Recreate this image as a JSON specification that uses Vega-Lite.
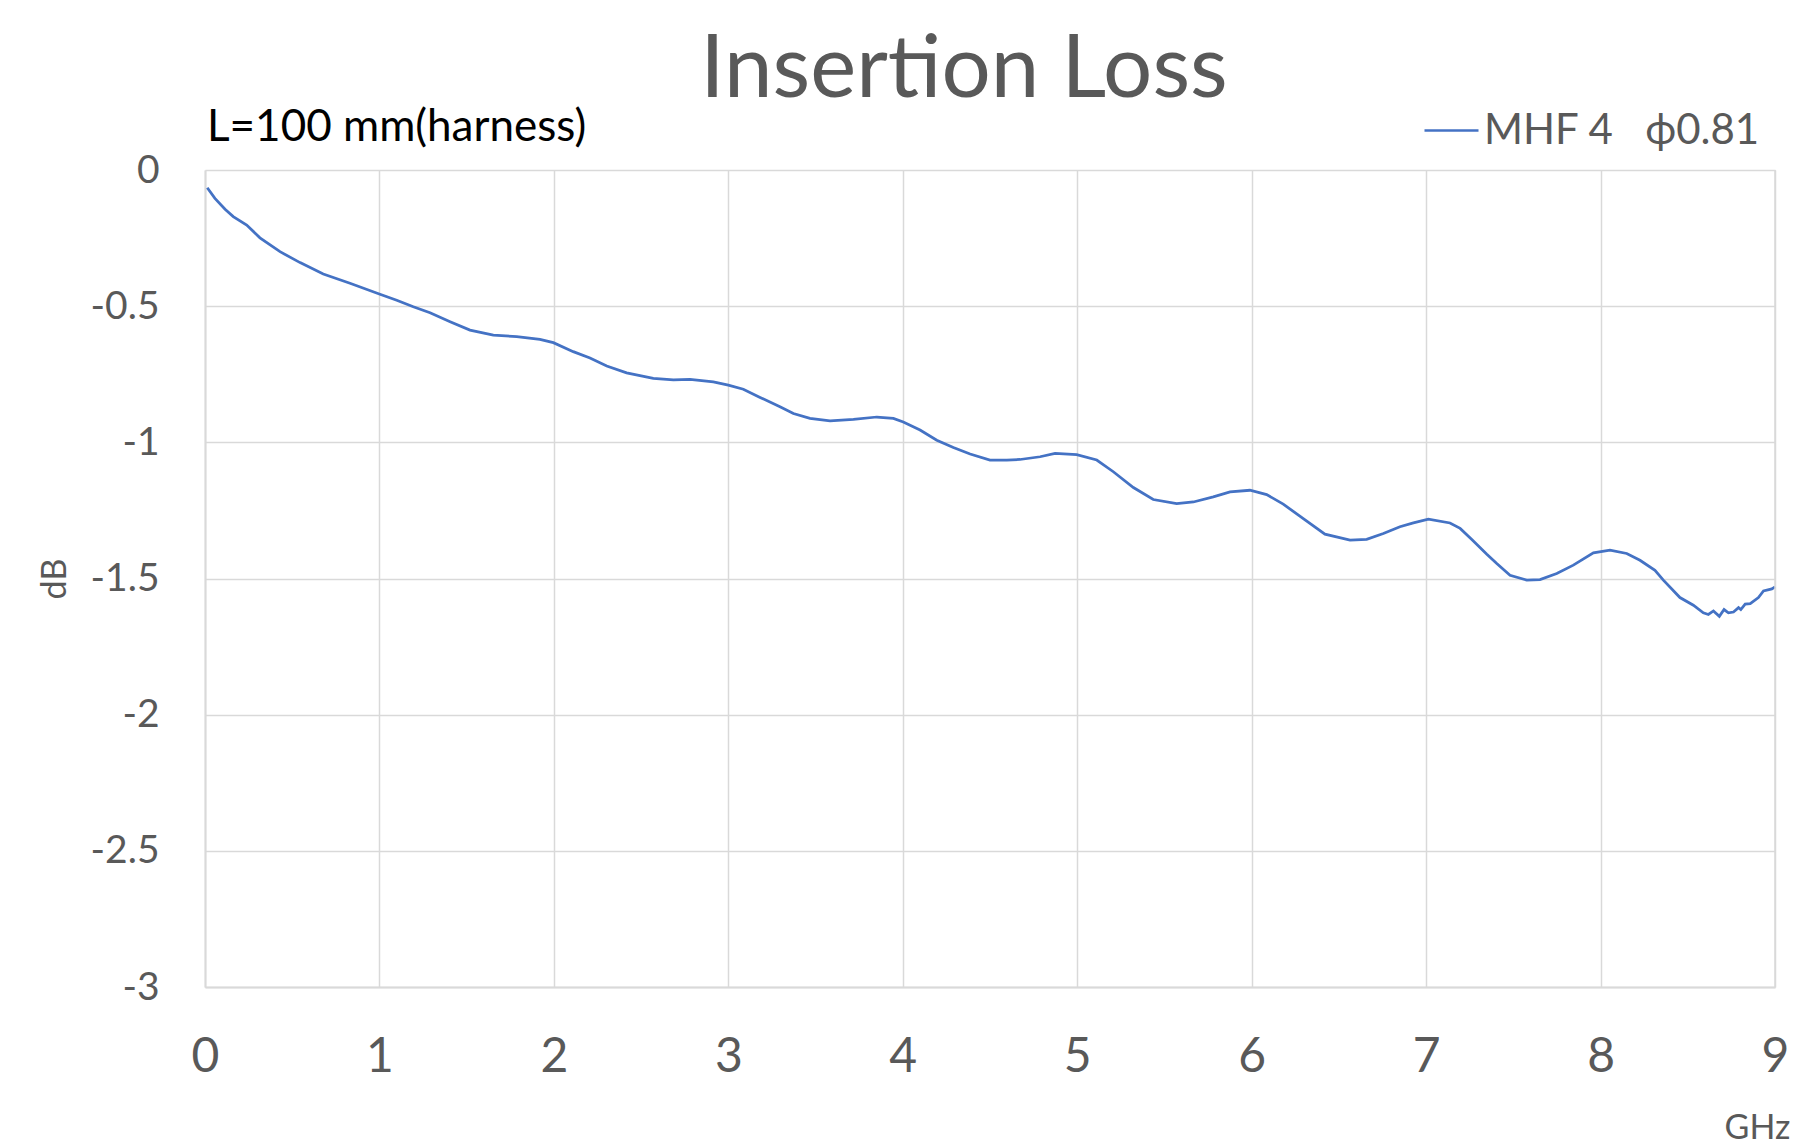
{
  "$schema": "https://vega.github.io/schema/vega-lite/v6.json",
  "width": 1570,
  "height": 817,
  "autosize": {"type": "none"},
  "padding": {"left": 205, "top": 170, "right": 36, "bottom": 158},
  "background": "white",
  "config": {
    "view": {"stroke": null},
    "font": "Lato"
  },
  "title": {
    "text": "Insertion Loss",
    "font": "Lato",
    "fontSize": 87,
    "fontWeight": "normal",
    "color": "#595959",
    "anchor": "middle",
    "frame": "group",
    "dx": -26,
    "offset": -13
  },
  "datasets": {
    "curve": [
      {"f": 0.013, "db": -0.065}, {"f": 0.057, "db": -0.104}, {"f": 0.115, "db": -0.144}, {"f": 0.162, "db": -0.171},
      {"f": 0.239, "db": -0.202}, {"f": 0.315, "db": -0.249}, {"f": 0.43, "db": -0.3}, {"f": 0.545, "db": -0.34},
      {"f": 0.678, "db": -0.382}, {"f": 0.831, "db": -0.416}, {"f": 1.003, "db": -0.456}, {"f": 1.099, "db": -0.478},
      {"f": 1.194, "db": -0.502}, {"f": 1.29, "db": -0.524}, {"f": 1.405, "db": -0.557}, {"f": 1.519, "db": -0.588},
      {"f": 1.653, "db": -0.606}, {"f": 1.787, "db": -0.612}, {"f": 1.92, "db": -0.622}, {"f": 1.997, "db": -0.634},
      {"f": 2.111, "db": -0.667}, {"f": 2.207, "db": -0.69}, {"f": 2.303, "db": -0.72}, {"f": 2.417, "db": -0.745},
      {"f": 2.57, "db": -0.765}, {"f": 2.685, "db": -0.771}, {"f": 2.78, "db": -0.769}, {"f": 2.914, "db": -0.778},
      {"f": 3.0, "db": -0.79}, {"f": 3.086, "db": -0.805}, {"f": 3.182, "db": -0.835}, {"f": 3.296, "db": -0.869},
      {"f": 3.373, "db": -0.894}, {"f": 3.468, "db": -0.912}, {"f": 3.583, "db": -0.921}, {"f": 3.717, "db": -0.916},
      {"f": 3.851, "db": -0.907}, {"f": 3.946, "db": -0.912}, {"f": 4.003, "db": -0.925}, {"f": 4.099, "db": -0.955},
      {"f": 4.195, "db": -0.992}, {"f": 4.29, "db": -1.019}, {"f": 4.386, "db": -1.043}, {"f": 4.5, "db": -1.065},
      {"f": 4.596, "db": -1.065}, {"f": 4.672, "db": -1.063}, {"f": 4.787, "db": -1.053}, {"f": 4.873, "db": -1.041},
      {"f": 4.997, "db": -1.045}, {"f": 5.112, "db": -1.065}, {"f": 5.207, "db": -1.108}, {"f": 5.322, "db": -1.166},
      {"f": 5.436, "db": -1.21}, {"f": 5.57, "db": -1.225}, {"f": 5.666, "db": -1.219}, {"f": 5.78, "db": -1.2},
      {"f": 5.876, "db": -1.182}, {"f": 5.99, "db": -1.176}, {"f": 6.086, "db": -1.192}, {"f": 6.181, "db": -1.227},
      {"f": 6.296, "db": -1.28}, {"f": 6.42, "db": -1.337}, {"f": 6.564, "db": -1.359}, {"f": 6.659, "db": -1.356},
      {"f": 6.755, "db": -1.335}, {"f": 6.85, "db": -1.31}, {"f": 6.927, "db": -1.296}, {"f": 7.013, "db": -1.282},
      {"f": 7.137, "db": -1.296}, {"f": 7.195, "db": -1.316}, {"f": 7.262, "db": -1.357}, {"f": 7.348, "db": -1.411},
      {"f": 7.405, "db": -1.445}, {"f": 7.481, "db": -1.488}, {"f": 7.577, "db": -1.506}, {"f": 7.653, "db": -1.504},
      {"f": 7.749, "db": -1.482}, {"f": 7.844, "db": -1.451}, {"f": 7.959, "db": -1.406}, {"f": 8.054, "db": -1.396},
      {"f": 8.15, "db": -1.408}, {"f": 8.226, "db": -1.433}, {"f": 8.312, "db": -1.47}, {"f": 8.36, "db": -1.506},
      {"f": 8.455, "db": -1.57}, {"f": 8.532, "db": -1.598}, {"f": 8.589, "db": -1.626}, {"f": 8.618, "db": -1.632},
      {"f": 8.647, "db": -1.619}, {"f": 8.681, "db": -1.639}, {"f": 8.708, "db": -1.614}, {"f": 8.733, "db": -1.626},
      {"f": 8.762, "db": -1.623}, {"f": 8.791, "db": -1.607}, {"f": 8.804, "db": -1.614}, {"f": 8.829, "db": -1.594},
      {"f": 8.858, "db": -1.592}, {"f": 8.905, "db": -1.57}, {"f": 8.934, "db": -1.546}, {"f": 8.982, "db": -1.538},
      {"f": 9.0, "db": -1.531}
    ],
    "note": [{"text": "L=100 mm(harness)", "f": 0, "db": 0}]
  },
  "layer": [
    {
      "data": {"name": "curve"},
      "transform": [{"calculate": "'MHF 4\u00a0\u00a0\u00a0ϕ0.81'", "as": "series"}],
      "mark": {"type": "line", "strokeWidth": 2.75, "interpolate": "linear"},
      "encoding": {
        "x": {
          "field": "f", "type": "quantitative",
          "scale": {"domain": [0, 9], "nice": false, "zero": false},
          "axis": {
            "values": [0, 1, 2, 3, 4, 5, 6, 7, 8, 9],
            "labelExpr": "datum.value + ''",
            "title": "GHz",
            "titleFont": "Lato", "titleFontSize": 34, "titleFontWeight": "normal", "titleColor": "#595959",
            "titleX": 1552, "titleY": 151, "titleAlign": "center", "titleBaseline": "alphabetic",
            "labelFont": "Lato", "labelFontSize": 48, "labelColor": "#595959", "labelPadding": 46,
            "labelFlush": false,
            "ticks": false, "tickSize": 0,
            "grid": true, "gridColor": "#d9d9d9", "gridWidth": 1.5,
            "domainColor": "#d9d9d9", "domainWidth": 2
          }
        },
        "y": {
          "field": "db", "type": "quantitative",
          "scale": {"domain": [-3, 0], "nice": false, "zero": false},
          "axis": {
            "values": [-3, -2.5, -2, -1.5, -1, -0.5, 0],
            "labelExpr": "datum.value + ''",
            "title": "dB",
            "titleFont": "Lato", "titleFontSize": 34, "titleFontWeight": "normal", "titleColor": "#595959",
            "titlePadding": 18,
            "labelFont": "Lato", "labelFontSize": 39, "labelColor": "#595959", "labelPadding": 46,
            "labelFlush": false,
            "ticks": false, "tickSize": 0,
            "grid": true, "gridColor": "#d9d9d9", "gridWidth": 1.5,
            "domainColor": "#d9d9d9", "domainWidth": 2
          }
        },
        "color": {
          "field": "series", "type": "nominal",
          "scale": {"range": ["#4472C4"]},
          "legend": {
            "title": null,
            "orient": "none",
            "legendX": 1218,
            "legendY": -68,
            "padding": 0,
            "symbolType": "stroke",
            "symbolSize": 2916,
            "symbolStrokeWidth": 2.5,
            "symbolStrokeColor": "#4472C4",
            "labelFont": "Lato",
            "labelFontSize": 42,
            "labelColor": "#595959",
            "labelOffset": 4,
            "labelLimit": 500
          }
        }
      }
    },
    {
      "data": {"name": "note"},
      "mark": {"type": "text", "align": "left", "baseline": "alphabetic", "dy": -29, "dx": 2, "fontSize": 44, "font": "Lato", "color": "#000000"},
      "encoding": {
        "x": {"field": "f", "type": "quantitative"},
        "y": {"field": "db", "type": "quantitative"},
        "text": {"field": "text"}
      }
    },
    {
      "data": {"values": [{"f": 9}]},
      "mark": {"type": "rule", "color": "#d9d9d9", "strokeWidth": 1.5},
      "encoding": {"x": {"field": "f", "type": "quantitative"}}
    }
  ]
}
